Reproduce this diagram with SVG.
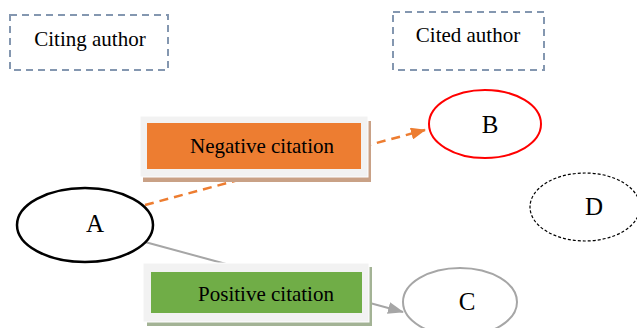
<svg xmlns="http://www.w3.org/2000/svg" width="637" height="328" viewBox="0 0 637 328">
<style>
.lbl{font-family:"Liberation Serif","Times New Roman",serif;font-size:21px;fill:#000;text-anchor:middle}
.big{font-family:"Liberation Serif","Times New Roman",serif;font-size:25px;fill:#000;text-anchor:middle}
.legend{fill:#fff;stroke:#8497b0;stroke-width:2;stroke-dasharray:7 5}
.outer{fill:#f2f2f2;stroke:#fff;stroke-width:1}
</style>
<defs>
<marker id="aO" markerWidth="15" markerHeight="12" refX="14" refY="6" orient="auto" markerUnits="userSpaceOnUse"><path d="M0,0 L15,6 L0,12 z" fill="#ed7d31"/></marker>
<marker id="aG" markerWidth="16" markerHeight="12" refX="15" refY="6" orient="auto" markerUnits="userSpaceOnUse"><path d="M0,0 L16,6 L0,12 z" fill="#a6a6a6"/></marker>
</defs>
<rect width="637" height="328" fill="#fff"/>
<g id="connectors">
<line x1="145" y1="205" x2="425" y2="130" stroke="#ed7d31" stroke-width="2.5" stroke-dasharray="9 6" marker-end="url(#aO)"/>
<line x1="145" y1="242" x2="403" y2="312" stroke="#a6a6a6" stroke-width="2" marker-end="url(#aG)"/>
</g>
<g id="citing-author">
<rect class="legend" x="10" y="15" width="158" height="55"/>
<text class="lbl" x="90" y="46">Citing author</text>
</g>
<g id="cited-author">
<rect class="legend" x="393" y="12" width="151" height="58"/>
<text class="lbl" x="468" y="42">Cited author</text>
</g>
<g id="negative">
<rect x="143" y="121" width="228" height="61" fill="#c9a186"/>
<rect class="outer" x="140" y="116" width="228" height="61"/>
<rect x="147" y="123" width="214" height="46" fill="#ed7d31"/>
<text class="lbl" x="262" y="153">Negative citation</text>
</g>
<g id="positive">
<rect x="147" y="267" width="225" height="59" fill="#a3b395"/>
<rect class="outer" x="143" y="263" width="226" height="59"/>
<rect x="151" y="272" width="211" height="41" fill="#70ad47"/>
<text class="lbl" x="266" y="301">Positive citation</text>
</g>
<g id="node-A">
<ellipse cx="85" cy="225" rx="68" ry="37" fill="#fff" stroke="#000" stroke-width="2.5"/>
<text class="big" x="95" y="232">A</text>
</g>
<g id="node-B">
<ellipse cx="485" cy="124" rx="56" ry="34" fill="#fff" stroke="#ff0000" stroke-width="2"/>
<text class="big" x="490" y="133">B</text>
</g>
<g id="node-C">
<ellipse cx="460" cy="302" rx="57" ry="34" fill="#fff" stroke="#a6a6a6" stroke-width="2"/>
<text class="big" x="467" y="310">C</text>
</g>
<g id="node-D">
<ellipse cx="585" cy="207" rx="55" ry="34" fill="#fff" stroke="#000" stroke-width="1.2" stroke-dasharray="3 2"/>
<text class="big" x="594" y="215">D</text>
</g>
</svg>
